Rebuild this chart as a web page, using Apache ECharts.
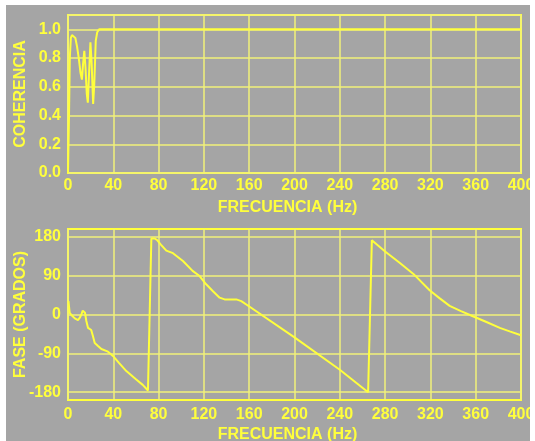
<!DOCTYPE html>
<html>
<head>
<meta charset="utf-8">
<script src="https://cdn.jsdelivr.net/npm/echarts@6/dist/echarts.min.js"></script>
<style>
  html, body { margin: 0; padding: 0; background: #ffffff; }
  #chart { position: absolute; left: 6px; top: 5px; width: 524px; height: 436px; background: #a5a5a5; }
</style>
</head>
<body>
<div id="chart"></div>
<script>
// coherencia vs frecuencia (Hz)
const coherencia = [
  [0, 0], [0.8, 0.35], [1.6, 0.8], [2.5, 0.94], [3.5, 0.96], [5, 0.965], [6.5, 0.94],
  [8, 0.88], [9.5, 0.8], [11, 0.7], [12.3, 0.65], [13.3, 0.76], [14.4, 0.85],
  [15.4, 0.74], [16.6, 0.55], [17.5, 0.49], [18.4, 0.66], [19.8, 0.91], [20.8, 0.78],
  [22.2, 0.48], [23.2, 0.62], [24.5, 0.92], [25.8, 0.98], [27.5, 1.0], [400, 1.0]
];
// fase (grados) vs frecuencia (Hz)
const fase = [
  [0.4, 31], [1.5, 4], [3, -1], [4.4, -4], [6, -9], [7.4, -12], [8.8, -13], [10.3, -8],
  [11.8, 0], [13, 9], [13.9, 13], [15, 4], [16.2, -15], [17.7, -31], [19.2, -35],
  [20.5, -36], [21.2, -38], [22, -50], [23.6, -66], [26.5, -73], [29.5, -80],
  [35.3, -86], [39.7, -96], [45, -112], [51.5, -131], [60, -150], [66, -163],
  [70.6, -176], [71.5, -178], [73.6, 176], [76.5, 176], [78.5, 173], [82, 162],
  [86.8, 148], [92.7, 142], [101.5, 124], [110, 101], [116.2, 89], [122, 70],
  [128, 54], [133.9, 39], [138.3, 35], [148.6, 35], [153, 31], [160.4, 18],
  [200, -53], [240, -128], [265, -180], [266.3, -180], [268.3, 172], [280, 146],
  [292.8, 120], [305, 94], [319.3, 56], [328, 38], [337, 20], [347, 8],
  [357.5, -4], [370, -18], [381.3, -31], [390, -39], [400, -48]
];
const cohTicks = [0, 0.2, 0.4, 0.6, 0.8, 1.0];
const faseTicks = [-180, -90, 0, 90, 180];

const yellow = "#ffff3c";
const gridYellow = "#f2f27a";
const font = { color: yellow, fontFamily: "Liberation Sans, Arial, sans-serif", fontWeight: "bold", fontSize: 16 };

var chart = echarts.init(document.getElementById("chart"));

function xAxisOpt(gridIndex) {
  return {
    type: "value",
    gridIndex: gridIndex,
    min: 0,
    max: 400,
    interval: 40,
    name: "FRECUENCIA (Hz)",
    nameLocation: "middle",
    nameGap: 27,
    nameMoveOverlap: false,
    nameTextStyle: Object.assign({}, font, { padding: [0, 14, 0, 0] }),
    axisLabel: Object.assign({}, font, { margin: gridIndex === 0 ? 5 : 7 }),
    axisLine: { show: false },
    axisTick: { show: false },
    splitLine: { show: true, lineStyle: { color: gridYellow, width: 1.5 } },
  };
}

var option = {
  backgroundColor: "transparent",
  animation: false,
  grid: [
    { left: 62, right: 9, top: 10, height: 158, outerBoundsMode: "none", containLabel: false, show: true, borderColor: yellow, borderWidth: 2, backgroundColor: "transparent" },
    { left: 62, right: 9, top: 224, height: 171, outerBoundsMode: "none", containLabel: false, show: true, borderColor: yellow, borderWidth: 2, backgroundColor: "transparent" },
  ],
  xAxis: [xAxisOpt(0), xAxisOpt(1)],
  yAxis: [
    {
      type: "value",
      gridIndex: 0,
      min: 0,
      max: 1.1,
      interval: 0.2,
      name: "COHERENCIA",
      nameLocation: "middle",
      nameGap: 39,
      nameMoveOverlap: false,
      nameTextStyle: font,
      axisLabel: Object.assign({}, font, {
        margin: 7,
        customValues: cohTicks,
        formatter: (v) => v.toFixed(1),
      }),
      axisLine: { show: false },
      axisTick: { show: false },
      splitLine: { show: true, lineStyle: { color: gridYellow, width: 1.5 } },
    },
    {
      type: "value",
      gridIndex: 1,
      min: -198,
      max: 198,
      name: "FASE (GRADOS)",
      nameLocation: "middle",
      nameGap: 39,
      nameMoveOverlap: false,
      nameTextStyle: font,
      axisLabel: Object.assign({}, font, { margin: 7, customValues: faseTicks }),
      axisLine: { show: false },
      axisTick: { show: false, customValues: faseTicks },
      splitLine: { show: true, customValues: faseTicks, lineStyle: { color: gridYellow, width: 1.5 } },
    },
  ],
  series: [
    {
      type: "line",
      xAxisIndex: 0,
      yAxisIndex: 0,
      data: coherencia,
      showSymbol: false,
      lineStyle: { color: yellow, width: 2 },
    },
    {
      type: "line",
      xAxisIndex: 1,
      yAxisIndex: 1,
      data: fase,
      showSymbol: false,
      lineStyle: { color: yellow, width: 2 },
    },
  ],
};
option && chart.setOption(option);
</script>
</body>
</html>
